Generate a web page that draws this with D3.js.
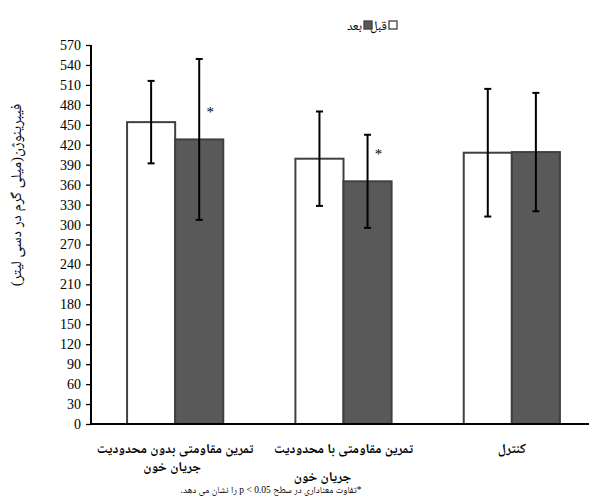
<!DOCTYPE html>
<html>
<head>
<meta charset="utf-8">
<script src="https://cdn.jsdelivr.net/npm/d3@7/dist/d3.min.js"></script>
<style>
  html, body { margin: 0; padding: 0; background: #fff; }
  svg { display: block; }
  text { fill: #000; }
  .serif { font-family: "Liberation Serif", "Times New Roman", serif; }
  .fa { font-family: "Liberation Serif", "Noto Naskh Arabic", serif; }
</style>
</head>
<body>
<svg id="chart" width="589" height="497"></svg>
<script>
// Groups (x categories), each label split in two lines
const groups = ["g1", "g2", "g3"];
const groupLine1 = ["تمرین مقاومتی بدون محدودیت", "تمرین مقاومتی با محدودیت", "کنترل"];
const groupLine2 = ["جریان خون", "جریان خون", ""];

// Series
const seriesKeys = ["before", "after"];
const seriesNames = ["قبل", "بعد"];
const beforeValues = [454, 399, 408];
const afterValues = [428, 365, 409];
const beforeErrors = [62, 71, 96];
const afterErrors = [121, 70, 89];
const afterSignificant = [true, true, false];

// Axis
const yTicks = d3.range(0, 571, 30);
const yLabel = "فیبرینوژن(میلی گرم در دسی لیتر)";
const footnote = "*تفاوت معناداری در سطح p < 0.05 را نشان می دهد.";

const fills = { before: "#ffffff", after: "#595959" };
const strokeCol = "#404040";

const svg = d3.select("#chart");

const y = d3.scaleLinear().domain([0, 570]).range([424, 45]);
const x = d3.scaleBand().domain(groups).range([91, 596]).padding(0);
const xs = d3.scaleBand().domain(seriesKeys).range([0, x.bandwidth()])
  .paddingInner(0).paddingOuter(0.75);

const rows = groups.map((g, i) => ({
  g,
  items: [
    { key: "before", v: beforeValues[i], e: beforeErrors[i], sig: false },
    { key: "after", v: afterValues[i], e: afterErrors[i], sig: afterSignificant[i] }
  ]
}));

// Bars
const gg = svg.selectAll("g.grp").data(rows).join("g")
  .attr("class", "grp")
  .attr("transform", d => `translate(${x(d.g)},0)`);

gg.selectAll("rect").data(d => d.items).join("rect")
  .attr("x", d => xs(d.key))
  .attr("y", d => y(d.v))
  .attr("width", xs.bandwidth())
  .attr("height", d => y(0) - y(d.v))
  .attr("fill", d => fills[d.key])
  .attr("stroke", strokeCol)
  .attr("stroke-width", 2);

// Error bars
const eb = gg.selectAll("g.err").data(d => d.items).join("g").attr("class", "err");
eb.append("line")
  .attr("x1", d => xs(d.key) + xs.bandwidth() / 2)
  .attr("x2", d => xs(d.key) + xs.bandwidth() / 2)
  .attr("y1", d => y(d.v + d.e))
  .attr("y2", d => y(d.v - d.e))
  .attr("stroke", "#000").attr("stroke-width", 2);
[1, -1].forEach(s => {
  eb.append("line")
    .attr("x1", d => xs(d.key) + xs.bandwidth() / 2 - 3.5)
    .attr("x2", d => xs(d.key) + xs.bandwidth() / 2 + 3.5)
    .attr("y1", d => y(d.v + s * d.e))
    .attr("y2", d => y(d.v + s * d.e))
    .attr("stroke", "#000").attr("stroke-width", 2);
});

// Significance marks
gg.selectAll("text.sig").data(d => d.items.filter(it => it.sig)).join("text")
  .attr("class", "sig serif")
  .attr("x", d => xs(d.key) + xs.bandwidth() / 2 + 11)
  .attr("y", d => y(d.v) - 22)
  .attr("text-anchor", "middle")
  .attr("font-size", 15)
  .text("*");

// Y axis
const yAxis = svg.append("g")
  .attr("transform", "translate(91,0)")
  .call(d3.axisLeft(y).tickValues(yTicks).tickSize(5).tickPadding(5));
yAxis.attr("font-family", "Liberation Serif").attr("font-size", 14);
yAxis.select(".domain").attr("stroke", "#000").attr("stroke-width", 2)
  .attr("d", `M0,${y(570)}V${y(0)}`);
yAxis.selectAll(".tick line").attr("stroke", "#000").attr("stroke-width", 1.3);
yAxis.selectAll(".tick text")
  .attr("class", "serif")
  .style("font-size", "14px")
  .attr("fill", "#000");

// X axis baseline
svg.append("line")
  .attr("x1", 90).attr("x2", 589)
  .attr("y1", y(0)).attr("y2", y(0))
  .attr("stroke", "#000").attr("stroke-width", 2);

// X labels
svg.selectAll("text.xl1").data(groups).join("text")
  .attr("class", "xl1 fa")
  .attr("x", d => x(d) + x.bandwidth() / 2)
  .attr("y", 453)
  .attr("text-anchor", "middle")
  .attr("direction", "rtl")
  .attr("font-size", 13.5)
  .attr("font-weight", "bold")
  .text((d, i) => groupLine1[i]);
svg.selectAll("text.xl2").data(groups).join("text")
  .attr("class", "xl2 fa")
  .attr("x", (d, i) => x(d) + x.bandwidth() / 2 - (i === 0 ? 3 : 21))
  .attr("y", (d, i) => i === 0 ? 471 : 481)
  .attr("text-anchor", "middle")
  .attr("direction", "rtl")
  .attr("font-size", 13.5)
  .attr("font-weight", "bold")
  .text((d, i) => groupLine2[i]);

// Footnote
svg.append("text")
  .attr("class", "fa")
  .attr("x", 271).attr("y", 493)
  .attr("text-anchor", "middle")
  .attr("direction", "rtl")
  .attr("font-size", 9.5)
  .text(footnote);

// Y label
svg.append("text")
  .attr("class", "fa")
  .attr("transform", "translate(21,195) rotate(-90)")
  .attr("text-anchor", "middle")
  .attr("direction", "rtl")
  .attr("font-size", 15)
  .text(yLabel);

// Legend
const legend = svg.append("g");
const legendItems = [
  { key: "before", name: seriesNames[0], sx: 389, tx: 387 },
  { key: "after", name: seriesNames[1], sx: 364, tx: 362 }
];
legend.selectAll("rect").data(legendItems).join("rect")
  .attr("x", d => d.sx).attr("y", 21).attr("width", 8).attr("height", 8)
  .attr("fill", d => fills[d.key]).attr("stroke", strokeCol).attr("stroke-width", 1.3);
legend.selectAll("text").data(legendItems).join("text")
  .attr("class", "fa")
  .attr("x", d => d.tx).attr("y", 30)
  .attr("text-anchor", "end")
  .attr("font-size", 13)
  .text(d => d.name);
</script>
</body>
</html>
